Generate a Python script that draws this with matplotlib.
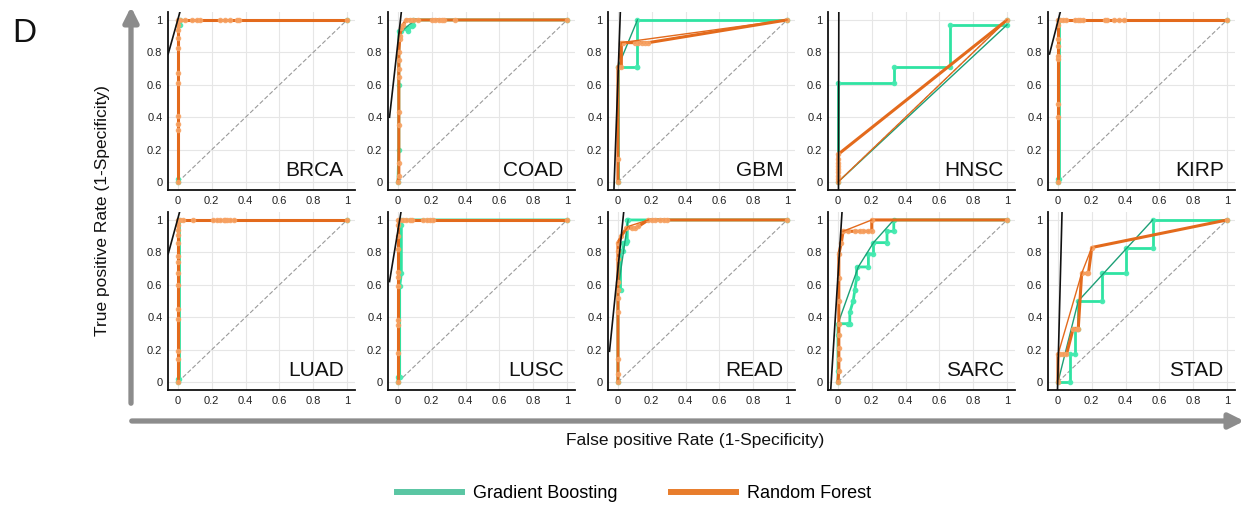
import matplotlib
matplotlib.use("Agg")
import matplotlib.pyplot as plt
from matplotlib.patches import FancyArrowPatch
from matplotlib.lines import Line2D

plt.rcParams["font.family"] = ["Liberation Sans", "DejaVu Sans"]

# ==========================
# DADOS
# ==========================

panels = ["BRCA", "COAD", "GBM", "HNSC", "KIRP",
          "LUAD", "LUSC", "READ", "SARC", "STAD"]

# Gradient Boosting (curva principal)
brca_gb_fpr = [0, 0, 0, 0.01, 0.01, 1]
brca_gb_tpr = [0, 0.02, 0.97, 0.97, 1, 1]
coad_gb_fpr = [0, 0.005, 0.005, 0.005, 0.02, 0.04, 0.06, 0.06, 0.08, 0.09, 0.09, 1]
coad_gb_tpr = [0, 0.2, 0.6, 0.93, 0.93, 0.95, 0.93, 0.95, 0.96, 0.97, 1, 1]
gbm_gb_fpr = [0, 0, 0.11, 0.115, 0.115, 1]
gbm_gb_tpr = [0, 0.71, 0.71, 0.71, 1, 1]
hnsc_gb_fpr = [0, 0, 0.33, 0.33, 0.66, 0.66, 1, 1]
hnsc_gb_tpr = [0, 0.61, 0.61, 0.71, 0.71, 0.97, 0.97, 1]
kirp_gb_fpr = [0, 0, 0.005, 0.005, 1]
kirp_gb_tpr = [0, 0.02, 0.02, 1, 1]
luad_gb_fpr = [0, 0, 0.005, 0.005, 1]
luad_gb_tpr = [0, 0.02, 0.02, 1, 1]
lusc_gb_fpr = [0, 0, 0.01, 0.01, 0.02, 0.02, 0.02, 1]
lusc_gb_tpr = [0, 0.03, 0.03, 0.59, 0.67, 0.97, 1, 1]
read_gb_fpr = [0, 0, 0.015, 0.015, 0.03, 0.03, 0.05, 0.055, 0.055, 0.06, 1]
read_gb_tpr = [0, 0.57, 0.57, 0.81, 0.81, 0.86, 0.86, 0.87, 1, 1, 1]
sarc_gb_fpr = [0, 0, 0, 0, 0.06, 0.07, 0.07, 0.09, 0.09, 0.1, 0.1, 0.11, 0.11,
               0.18, 0.18, 0.21, 0.21, 0.29, 0.29, 0.33, 0.33, 1]
sarc_gb_tpr = [0, 0.07, 0.29, 0.36, 0.36, 0.36, 0.43, 0.5, 0.5, 0.57, 0.57, 0.64, 0.71,
               0.71, 0.79, 0.79, 0.86, 0.86, 0.93, 0.93, 1, 1]
stad_gb_fpr = [0, 0.07, 0.07, 0.1, 0.1, 0.12, 0.12, 0.26, 0.26, 0.4, 0.4, 0.56, 0.56, 1]
stad_gb_tpr = [0, 0, 0.17, 0.17, 0.33, 0.33, 0.5, 0.5, 0.67, 0.67, 0.83, 0.83, 1, 1]

# Random Forest (curva principal)
brca_rf_fpr = [0, 0, 0, 0, 0, 0, 0, 0, 0, 0, 0, 0.01, 0.04, 0.08, 0.11, 0.13,
               0.25, 0.28, 0.31, 0.35, 0.36, 1]
brca_rf_tpr = [0, 0.32, 0.36, 0.41, 0.61, 0.67, 0.83, 0.89, 0.94, 0.97, 1, 1, 1, 1, 1, 1,
               1, 1, 1, 1, 1, 1]
coad_rf_fpr = [0, 0.005, 0.005, 0.005, 0.005, 0.005, 0.005, 0.005, 0.005, 0.01, 0.01,
               0.02, 0.03, 0.05, 0.07, 0.09, 0.12, 0.2, 0.22, 0.24, 0.26, 0.27, 0.34, 1]
coad_rf_tpr = [0, 0.04, 0.12, 0.35, 0.43, 0.65, 0.7, 0.75, 0.8, 0.88, 0.9,
               0.95, 0.97, 1, 1, 1, 1, 1, 1, 1, 1, 1, 1, 1]
gbm_rf_fpr = [0, 0, 0, 0.02, 0.02, 0.03, 0.1, 0.12, 0.14, 0.16, 0.18, 1]
gbm_rf_tpr = [0, 0.14, 0.71, 0.71, 0.86, 0.86, 0.86, 0.86, 0.86, 0.86, 0.86, 1]
hnsc_rf_fpr = [0, 0, 0, 0, 0, 0, 0, 0, 0, 1]
hnsc_rf_tpr = [0, 0.02, 0.04, 0.06, 0.08, 0.1, 0.12, 0.14, 0.17, 1]
kirp_rf_fpr = [0, 0, 0, 0, 0, 0, 0, 0, 0, 0.01, 0.03, 0.05, 0.1, 0.12, 0.13, 0.15,
               0.28, 0.29, 0.33, 0.36, 0.39, 1]
kirp_rf_tpr = [0, 0.4, 0.48, 0.76, 0.78, 0.84, 0.88, 0.97, 1, 1, 1, 1, 1, 1, 1, 1,
               1, 1, 1, 1, 1, 1]
luad_rf_fpr = [0, 0, 0, 0, 0, 0, 0, 0, 0, 0, 0, 0, 0, 0, 0.01, 0.03, 0.09, 0.21,
               0.23, 0.25, 0.27, 0.28, 0.29, 0.31, 0.33, 1]
luad_rf_tpr = [0, 0.14, 0.19, 0.39, 0.45, 0.6, 0.67, 0.74, 0.78, 0.86, 0.91, 0.94, 0.97,
               1, 1, 1, 1, 1, 1, 1, 1, 1, 1, 1, 1, 1]
lusc_rf_fpr = [0, 0, 0, 0, 0, 0, 0, 0, 0, 0, 0, 0.01, 0.03, 0.05, 0.07, 0.08,
               0.15, 0.17, 0.19, 0.21, 1]
lusc_rf_tpr = [0, 0.18, 0.35, 0.38, 0.59, 0.65, 0.68, 0.82, 0.9, 0.97, 1, 1, 1, 1, 1, 1,
               1, 1, 1, 1, 1]
read_rf_fpr = [0, 0, 0, 0, 0, 0, 0, 0, 0, 0, 0.02, 0.05, 0.08, 0.1, 0.12, 0.18,
               0.2, 0.22, 0.25, 0.27, 0.29, 1]
read_rf_tpr = [0, 0.05, 0.14, 0.43, 0.52, 0.57, 0.62, 0.76, 0.81, 0.86, 0.9, 0.95, 0.95,
               0.95, 0.96, 1, 1, 1, 1, 1, 1, 1]
sarc_rf_fpr = [0, 0.005, 0.005, 0.005, 0.005, 0.005, 0.005, 0.005, 0.005, 0.02, 0.03,
               0.06, 0.1, 0.13, 0.15, 0.18, 0.2, 0.2, 1]
sarc_rf_tpr = [0, 0.07, 0.14, 0.21, 0.29, 0.36, 0.5, 0.64, 0.79, 0.86, 0.93,
               0.93, 0.93, 0.93, 0.93, 0.93, 0.93, 1, 1]
stad_rf_fpr = [0, 0, 0.01, 0.03, 0.05, 0.09, 0.11, 0.12, 0.14, 0.17, 0.18, 0.2, 1]
stad_rf_tpr = [0, 0.17, 0.17, 0.17, 0.17, 0.33, 0.33, 0.33, 0.67, 0.67, 0.67, 0.83, 1]

# curvas finas (envoltória)
gb_thin_fpr = {"COAD": [0.02, 0.09], "GBM": [0, 0.115],
               "HNSC": [0, 1], "READ": [0, 0.06],
               "SARC": [0, 0.12, 0.21, 0.33], "STAD": [0, 0.12, 0.56]}
gb_thin_tpr = {"COAD": [0.93, 0.99], "GBM": [0.71, 1],
               "HNSC": [0, 0.97], "READ": [0.57, 1],
               "SARC": [0.36, 0.71, 0.86, 1], "STAD": [0, 0.5, 1]}
rf_thin_fpr = {"GBM": [0, 0.02, 1], "HNSC": [0, 1], "READ": [0, 0.02, 0.06, 0.18],
               "SARC": [0.03, 0.2], "STAD": [0, 0.14, 0.2]}
rf_thin_tpr = {"GBM": [0.71, 0.86, 1], "HNSC": [0, 1], "READ": [0.86, 0.9, 0.96, 1],
               "SARC": [0.93, 1], "STAD": [0.17, 0.67, 0.83]}

# retas pretas quase verticais
fit_x0 = [-0.058, -0.05, -0.024, 0.003, -0.05, -0.058, -0.05, -0.05, -0.043, -0.003]
fit_y0 = [0.79, 0.40, -0.05, -0.05, 0.79, 0.79, 0.62, 0.19, -0.05, -0.05]
fit_x1 = [0.012, 0.02, 0.014, 0.005, 0.014, 0.01, 0.018, 0.034, 0.024, 0.024]
fit_y1 = [1.05] * 10

gb_fpr = [brca_gb_fpr, coad_gb_fpr, gbm_gb_fpr, hnsc_gb_fpr, kirp_gb_fpr,
          luad_gb_fpr, lusc_gb_fpr, read_gb_fpr, sarc_gb_fpr, stad_gb_fpr]
gb_tpr = [brca_gb_tpr, coad_gb_tpr, gbm_gb_tpr, hnsc_gb_tpr, kirp_gb_tpr,
          luad_gb_tpr, lusc_gb_tpr, read_gb_tpr, sarc_gb_tpr, stad_gb_tpr]
rf_fpr = [brca_rf_fpr, coad_rf_fpr, gbm_rf_fpr, hnsc_rf_fpr, kirp_rf_fpr,
          luad_rf_fpr, lusc_rf_fpr, read_rf_fpr, sarc_rf_fpr, stad_rf_fpr]
rf_tpr = [brca_rf_tpr, coad_rf_tpr, gbm_rf_tpr, hnsc_rf_tpr, kirp_rf_tpr,
          luad_rf_tpr, lusc_rf_tpr, read_rf_tpr, sarc_rf_tpr, stad_rf_tpr]

ticks = [0, 0.2, 0.4, 0.6, 0.8, 1]
tick_labels = ["0", "0.2", "0.4", "0.6", "0.8", "1"]

GB_COLOR = "#2fe3a2"
GB_THIN = "#1c9f76"
GB_MARK = "#45eab0"
RF_COLOR = "#e36a1c"
RF_MARK = "#f7a263"

# ==========================
# FIGURA
# ==========================

W, H = 1249, 509
fig = plt.figure(figsize=(W / 100, H / 100), dpi=100)

for i, name in enumerate(panels):
    row, col = divmod(i, 5)
    left = 168 + 220 * col
    top = 12 + 200 * row
    ax = fig.add_axes([left / W, 1 - (top + 178) / H, 187 / W, 178 / H])
    ax.set_xlim(-0.059, 1.047)
    ax.set_ylim(-0.049, 1.049)
    ax.set_xticks(ticks)
    ax.set_xticklabels(tick_labels)
    ax.set_yticks(ticks)
    ax.set_yticklabels(tick_labels)
    ax.tick_params(length=0, labelsize=8, labelcolor="#222222", pad=4)
    ax.grid(True, color="#e6e6e6", lw=0.8)
    ax.set_axisbelow(True)
    for s in ["top", "right"]:
        ax.spines[s].set_visible(False)
    for s in ["left", "bottom"]:
        ax.spines[s].set_linewidth(1.3)
        ax.spines[s].set_color("#111111")

    ax.plot([0, 1], [0, 1], color="#9a9a9a", lw=0.8, dashes=(4, 2))

    ax.plot(gb_fpr[i], gb_tpr[i], color=GB_COLOR, lw=2, zorder=3)
    ax.plot(gb_fpr[i], gb_tpr[i], "o", color=GB_MARK, ms=3, alpha=0.9, zorder=3)
    if name in gb_thin_fpr:
        ax.plot(gb_thin_fpr[name], gb_thin_tpr[name], color=GB_THIN, lw=1, zorder=3)

    ax.plot(rf_fpr[i], rf_tpr[i], color=RF_COLOR, lw=2.2, zorder=4)
    ax.plot(rf_fpr[i], rf_tpr[i], "o", color=RF_MARK, ms=3, alpha=0.85, zorder=4)
    if name in rf_thin_fpr:
        ax.plot(rf_thin_fpr[name], rf_thin_tpr[name], color=RF_COLOR, lw=1, zorder=4)

    ax.plot([fit_x0[i], fit_x1[i]], [fit_y0[i], fit_y1[i]], color="#111111", lw=1.2, zorder=5)

    ax.text(0.98, 0.04, name, ha="right", va="baseline", fontsize=15, color="#111111")

# setas cinzas dos eixos
fig.add_artist(FancyArrowPatch((131 / W, 1 - 406 / H), (131 / W, 1 - 4 / H),
                               transform=fig.transFigure, arrowstyle="-|>",
                               mutation_scale=22, lw=3.8, color="#8c8c8c"))
fig.add_artist(FancyArrowPatch((129 / W, 1 - 421 / H), (1247 / W, 1 - 421 / H),
                               transform=fig.transFigure, arrowstyle="-|>",
                               mutation_scale=22, lw=3.8, color="#8c8c8c"))

fig.text(103 / W, 1 - 211 / H, "True positive Rate (1-Specificity)", rotation=90,
         ha="center", va="center", fontsize=12.5, color="#111111")
fig.text(695 / W, 1 - 440 / H, "False positive Rate (1-Specificity)",
         ha="center", va="center", fontsize=12.5, color="#111111")
fig.text(12 / W, 1 - 42 / H, "D", ha="left", va="baseline", fontsize=24, color="#111111")

# legenda
handles = [Line2D([], [], color="#5ac6a3", lw=4.3),
           Line2D([], [], color="#e87d2c", lw=4.3)]
fig.legend(handles, ["Gradient Boosting", "Random Forest"], ncol=2, frameon=False,
           loc="center", bbox_to_anchor=(634 / W, 1 - 494 / H), fontsize=13,
           handlelength=3.6, handletextpad=0.6, columnspacing=3.0, borderpad=0)

fig.savefig("out.png", dpi=100)
plt.close()
